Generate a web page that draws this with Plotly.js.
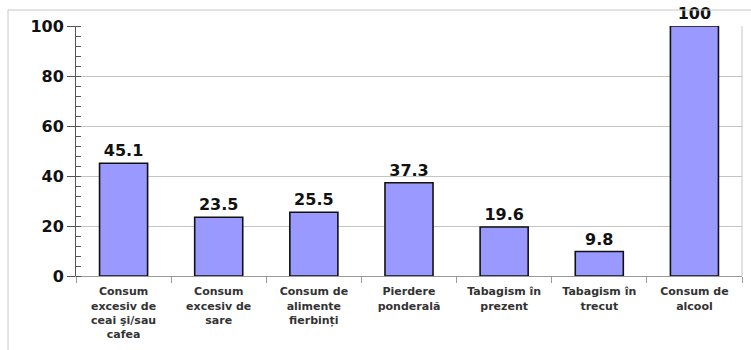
<!DOCTYPE html>
<html>
<head>
<meta charset="utf-8">
<script src="https://cdn.plot.ly/plotly-3.0.1.min.js"></script>
<style>
  html, body { margin: 0; padding: 0; background: #fff; }
  #chart { width: 751px; height: 350px; }
</style>
</head>
<body>
<div id="chart"></div>
<script>
// Risk factors (category labels, line-broken as printed under each bar)
const categories = [
  "Consum<br>excesiv de<br>ceai şi/sau<br>cafea",
  "Consum<br>excesiv de<br>sare",
  "Consum de<br>alimente<br>fierbinți",
  "Pierdere<br>ponderală",
  "Tabagism în<br>prezent",
  "Tabagism în<br>trecut",
  "Consum de<br>alcool"
];

// Percentage for each risk factor
const values = [45.1, 23.5, 25.5, 37.3, 19.6, 9.8, 100];

// Y axis ticks
const yTicks = [0, 20, 40, 60, 80, 100];

const numFont = "DejaVu Sans, Verdana, sans-serif";

// Plot-area geometry in pixels, used to place the outer frame
const W = 751, H = 350;
const M = { l: 76, r: 9, t: 26, b: 74 };
const pw = W - M.l - M.r, ph = H - M.t - M.b;
const px = x => (x - M.l) / pw;
const py = y => (H - M.b - y) / ph;

const trace = {
  type: "bar",
  x: categories,
  y: values,
  marker: { color: "#9999ff", line: { color: "#111", width: 1.6 } },
  width: 0.505,
  texttemplate: "%{y}",
  textposition: "outside",
  cliponaxis: false,
  textfont: { family: numFont, size: 16, color: "#111", weight: "bold" },
  hoverinfo: "skip"
};

const layout = {
  width: W,
  height: H,
  margin: M,
  paper_bgcolor: "#fff",
  plot_bgcolor: "#fff",
  showlegend: false,
  xaxis: {
    type: "category",
    showline: true,
    linecolor: "#999",
    linewidth: 1,
    ticks: "outside",
    tickson: "boundaries",
    ticklen: 6,
    tickcolor: "#999",
    ticklabelstandoff: 5,
    tickfont: { family: numFont, size: 11, color: "#333", weight: "bold" },
    showgrid: false,
    zeroline: false,
    fixedrange: true
  },
  yaxis: {
    range: [0, 100],
    tickvals: yTicks,
    ticktext: yTicks.map(String),
    showline: true,
    linecolor: "#555",
    linewidth: 1,
    ticks: "outside",
    ticklen: 8,
    tickcolor: "#555",
    tickfont: { family: numFont, size: 16, color: "#111", weight: "bold" },
    showgrid: true,
    gridcolor: "#c4c4c4",
    gridwidth: 1,
    zeroline: false,
    minor: { dtick: 4, ticks: "inside", ticklen: 5, tickcolor: "#555", showgrid: false },
    fixedrange: true
  },
  shapes: [
    // right edge of the plot area
    { type: "line", xref: "paper", yref: "paper", x0: 1, x1: 1, y0: 0, y1: 1,
      line: { color: "#c4c4c4", width: 1 } },
    // outer frame: top and left edges
    { type: "line", xref: "paper", yref: "paper", x0: px(8), x1: px(751), y0: py(10), y1: py(10),
      line: { color: "#c8c8c8", width: 1 } },
    { type: "line", xref: "paper", yref: "paper", x0: px(8), x1: px(8), y0: py(10), y1: py(350),
      line: { color: "#c8c8c8", width: 1 } }
  ]
};

Plotly.newPlot("chart", [trace], layout, { staticPlot: true, displayModeBar: false });
</script>
</body>
</html>
